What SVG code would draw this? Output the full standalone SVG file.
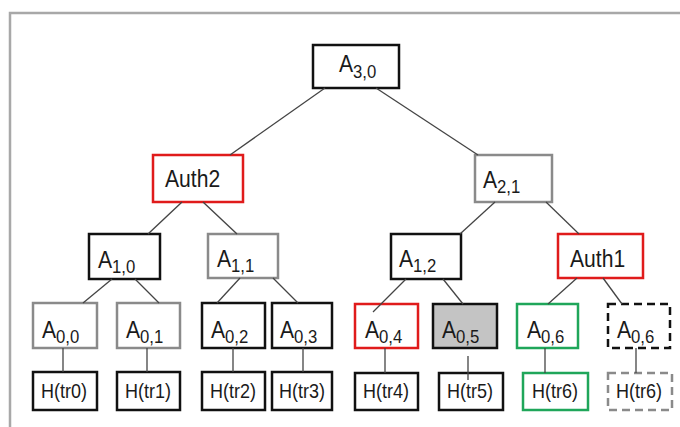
<svg xmlns="http://www.w3.org/2000/svg" width="680" height="427" viewBox="0 0 680 427">
  <style>
    .box { fill: #ffffff; stroke-width: 2.5; }
    .blk { stroke: #111111; }
    .gry { stroke: #8a8a8a; }
    .red { stroke: #e01b1b; }
    .grn { stroke: #1fa65a; }
    .shaded { fill: #c4c4c4; }
    .dash { stroke-dasharray: 8 5; }
    .lbl { font-family: "Liberation Sans", Arial, sans-serif; fill: #1a1a1a; font-size: 24px; }
    .sub { font-size: 19px; }
    .hl { font-family: "Liberation Sans", Arial, sans-serif; fill: #1a1a1a; font-size: 20px; text-anchor: middle; }
    .edge { stroke: #444444; stroke-width: 1.3; fill: none; }
    .frame { stroke: #a8a8a8; stroke-width: 2.5; fill: none; }
  </style>

  <!-- outer frame -->
  <path class="frame" d="M10,427 V13 H680"/>

  <!-- root -->
  <g id="A30">
    <rect class="box blk" x="313" y="45" width="86" height="43"/>
    <text class="lbl" transform="translate(339 72) scale(0.88 1)">A<tspan class="sub" font-size="15" dy="6">3,0</tspan></text>
  </g>

  <!-- level 2 -->
  <g id="Auth2">
    <rect class="box red" x="153" y="155" width="90" height="47"/>
    <text class="lbl" transform="translate(165 187) scale(0.88 1)">Auth2</text>
  </g>
  <g id="A21">
    <rect class="box gry" x="475" y="155" width="77" height="47"/>
    <text class="lbl" transform="translate(483 188) scale(0.88 1)">A<tspan class="sub" dy="5">2,1</tspan></text>
  </g>

  <!-- level 1 -->
  <g id="A10">
    <rect class="box blk" x="89" y="234" width="71" height="45"/>
    <text class="lbl" transform="translate(98 268) scale(0.88 1)">A<tspan class="sub" dy="5">1,0</tspan></text>
  </g>
  <g id="A11">
    <rect class="box gry" x="208" y="234" width="70" height="44"/>
    <text class="lbl" transform="translate(217 267) scale(0.88 1)">A<tspan class="sub" dy="5">1,1</tspan></text>
  </g>
  <g id="A12">
    <rect class="box blk" x="391" y="234" width="70" height="45"/>
    <text class="lbl" transform="translate(399 267) scale(0.88 1)">A<tspan class="sub" dy="5">1,2</tspan></text>
  </g>
  <g id="Auth1">
    <rect class="box red" x="558" y="234" width="85" height="44"/>
    <text class="lbl" transform="translate(570 267) scale(0.88 1)">Auth1</text>
  </g>

  <!-- level 0 -->
  <g id="A00">
    <rect class="box gry" x="33" y="303" width="64" height="45"/>
    <text class="lbl" transform="translate(42 338) scale(0.88 1)">A<tspan class="sub" dy="5">0,0</tspan></text>
  </g>
  <g id="A01">
    <rect class="box gry" x="117" y="303" width="63" height="45"/>
    <text class="lbl" transform="translate(126 338) scale(0.88 1)">A<tspan class="sub" dy="5">0,1</tspan></text>
  </g>
  <g id="A02">
    <rect class="box blk" x="202" y="303" width="63" height="45"/>
    <text class="lbl" transform="translate(211 338) scale(0.88 1)">A<tspan class="sub" dy="5">0,2</tspan></text>
  </g>
  <g id="A03">
    <rect class="box blk" x="272" y="303" width="60" height="45"/>
    <text class="lbl" transform="translate(280 338) scale(0.88 1)">A<tspan class="sub" dy="5">0,3</tspan></text>
  </g>
  <g id="A04">
    <rect class="box red" x="355" y="304" width="63" height="44"/>
    <text class="lbl" transform="translate(365 338) scale(0.88 1)">A<tspan class="sub" dy="5">0,4</tspan></text>
  </g>
  <g id="A05">
    <rect class="box blk shaded" x="433" y="304" width="64" height="44"/>
    <text class="lbl" transform="translate(442 338) scale(0.88 1)">A<tspan class="sub" dy="5">0,5</tspan></text>
  </g>
  <g id="A06">
    <rect class="box grn" x="517" y="304" width="61" height="44"/>
    <text class="lbl" transform="translate(527 338) scale(0.88 1)">A<tspan class="sub" dy="5">0,6</tspan></text>
  </g>
  <g id="A06pad">
    <rect class="box blk dash" x="608" y="304" width="62" height="44"/>
    <text class="lbl" transform="translate(617 338) scale(0.88 1)">A<tspan class="sub" dy="5">0,6</tspan></text>
  </g>

  <!-- leaf hashes -->
  <g id="H0">
    <rect class="box blk" x="33" y="372" width="64" height="38"/>
    <text class="hl" transform="translate(64 398) scale(0.9 1)">H(tr0)</text>
  </g>
  <g id="H1">
    <rect class="box blk" x="117" y="372" width="63" height="38"/>
    <text class="hl" transform="translate(148 398) scale(0.9 1)">H(tr1)</text>
  </g>
  <g id="H2">
    <rect class="box blk" x="202" y="372" width="63" height="38"/>
    <text class="hl" transform="translate(233 398) scale(0.9 1)">H(tr2)</text>
  </g>
  <g id="H3">
    <rect class="box blk" x="272" y="372" width="60" height="38"/>
    <text class="hl" transform="translate(302 398) scale(0.9 1)">H(tr3)</text>
  </g>
  <g id="H4">
    <rect class="box blk" x="355" y="373" width="63" height="37"/>
    <text class="hl" transform="translate(386 398) scale(0.9 1)">H(tr4)</text>
  </g>
  <g id="H5">
    <rect class="box blk" x="439" y="373" width="64" height="37"/>
    <text class="hl" transform="translate(470 398) scale(0.9 1)">H(tr5)</text>
  </g>
  <g id="H6">
    <rect class="box grn" x="523" y="373" width="65" height="37"/>
    <text class="hl" transform="translate(555 398) scale(0.9 1)">H(tr6)</text>
  </g>
  <g id="H6pad">
    <rect class="box gry dash" x="608" y="373" width="64" height="37"/>
    <text class="hl" transform="translate(639 398) scale(0.9 1)">H(tr6)</text>
  </g>

  <!-- connectors -->
  <g id="edges" class="edge">
    <line x1="325" y1="88" x2="230" y2="155"/>
    <line x1="376" y1="88" x2="478" y2="155"/>
    <line x1="182" y1="202" x2="148" y2="234"/>
    <line x1="203" y1="202" x2="237" y2="234"/>
    <line x1="495" y1="202" x2="460" y2="234"/>
    <line x1="546" y1="202" x2="579" y2="234"/>
    <line x1="112" y1="279" x2="83" y2="303"/>
    <line x1="135" y1="279" x2="159" y2="303"/>
    <line x1="240" y1="278" x2="217" y2="303"/>
    <line x1="273" y1="278" x2="298" y2="303"/>
    <line x1="406" y1="279" x2="373" y2="312"/>
    <line x1="443" y1="279" x2="463" y2="304"/>
    <line x1="577" y1="278" x2="548" y2="304"/>
    <line x1="603" y1="278" x2="622" y2="304"/>
    <line x1="63" y1="348" x2="63" y2="372"/>
    <line x1="147" y1="348" x2="147" y2="372"/>
    <line x1="233" y1="348" x2="233" y2="372"/>
    <line x1="303" y1="348" x2="303" y2="372"/>
    <line x1="385" y1="348" x2="385" y2="373"/>
    <line x1="468" y1="356" x2="468" y2="380"/>
    <line x1="545" y1="348" x2="545" y2="373"/>
    <line x1="636" y1="348" x2="636" y2="373"/>
  </g>
</svg>
